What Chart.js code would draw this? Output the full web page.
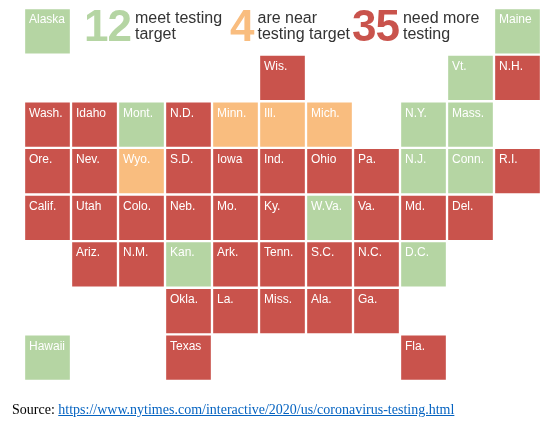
<!DOCTYPE html>
<html><head><meta charset="utf-8">
<script src="https://cdn.jsdelivr.net/npm/chart.js@4"></script>
<style>
body{margin:0;background:#fff;width:549px;height:433px;position:relative;overflow:hidden;font-family:"Liberation Sans",Arial,sans-serif}
#wrap{position:absolute;left:0;top:0;width:549px;height:433px}
.hd{position:absolute;top:4px;display:flex;align-items:center}
.num{font-size:44px;font-weight:bold;line-height:44px;letter-spacing:-1px}
.txt{font-size:16px;line-height:16px;color:#333;margin-left:4px}
#src{position:absolute;left:12px;top:402px;font-family:"Liberation Serif","Times New Roman",serif;font-size:14px;color:#000}
#src a{color:#0563c1}
</style></head><body>
<div id="wrap"><canvas id="c" width="549" height="433"></canvas></div>
<div class="hd" style="left:84px"><span class="num" style="color:#b5d5a3">12</span><span class="txt">meet testing<br>target</span></div>
<div class="hd" style="left:230px"><span class="num" style="color:#f9bd7f">4</span><span class="txt">are near<br>testing target</span></div>
<div class="hd" style="left:352px"><span class="num" style="color:#c9534c">35</span><span class="txt">need more<br>testing</span></div>
<div id="src">Source: <a href="#">https://www.nytimes.com/interactive/2020/us/coronavirus-testing.html</a></div>
<script>
const states = ["Alaska","Maine","Wis.","Vt.","N.H.","Wash.","Idaho","Mont.","N.D.","Minn.","Ill.","Mich.","N.Y.","Mass.","Ore.","Nev.","Wyo.","S.D.","Iowa","Ind.","Ohio","Pa.","N.J.","Conn.","R.I.","Calif.","Utah","Colo.","Neb.","Mo.","Ky.","W.Va.","Va.","Md.","Del.","Ariz.","N.M.","Kan.","Ark.","Tenn.","S.C.","N.C.","D.C.","Okla.","La.","Miss.","Ala.","Ga.","Hawaii","Texas","Fla."];
const cols = [0,10,5,9,10,0,1,2,3,4,5,6,8,9,0,1,2,3,4,5,6,7,8,9,10,0,1,2,3,4,5,6,7,8,9,1,2,3,4,5,6,7,8,3,4,5,6,7,0,3,8];
const rows = [0,0,1,1,1,2,2,2,2,2,2,2,2,2,3,3,3,3,3,3,3,3,3,3,3,4,4,4,4,4,4,4,4,4,4,5,5,5,5,5,5,5,5,6,6,6,6,6,7,7,7];
const status = ["g","g","r","g","r","r","r","g","r","o","o","o","g","g","r","r","o","r","r","r","r","r","g","g","r","r","r","r","r","r","r","g","r","r","r","r","r","g","r","r","r","r","g","r","r","r","r","r","g","r","r"];
const colorOf = {g:"#b5d5a3",o:"#f9bd7f",r:"#c9534c"};
const groups = ["g","o","r"];
const datasets = groups.map(s=>({
  data: states.map((n,i)=>status[i]===s?{x:cols[i],y:[rows[i],rows[i]+1],name:n}:null).filter(Boolean),
  backgroundColor: colorOf[s], borderColor:"#fff", borderWidth:1.5, borderSkipped:false,
  categoryPercentage:1, barPercentage:1, grouped:false
}));
const labelPlugin={id:"lbl",afterDatasetsDraw(ch){
  const ctx=ch.ctx,xs=ch.scales.x,ys=ch.scales.y;
  ctx.save();ctx.fillStyle="#fff";ctx.font="12px 'Liberation Sans', Arial, sans-serif";ctx.textBaseline="top";
  states.forEach((n,i)=>{const l=xs.getPixelForValue(cols[i]-0.5),t=ys.getPixelForValue(rows[i]);ctx.fillText(n,l+5,t+6);});
  ctx.restore();}};
new Chart(document.getElementById("c"),{type:"bar",data:{datasets},
 options:{responsive:false,animation:false,events:[],
  layout:{padding:{left:24,right:8,top:8,bottom:52}},
  plugins:{legend:{display:false},tooltip:{enabled:false}},
  scales:{x:{type:"linear",min:-0.5,max:10.5,offset:false,display:false},
          y:{type:"linear",min:0,max:8,reverse:true,display:false}}},
 plugins:[labelPlugin]});
</script></body></html>
